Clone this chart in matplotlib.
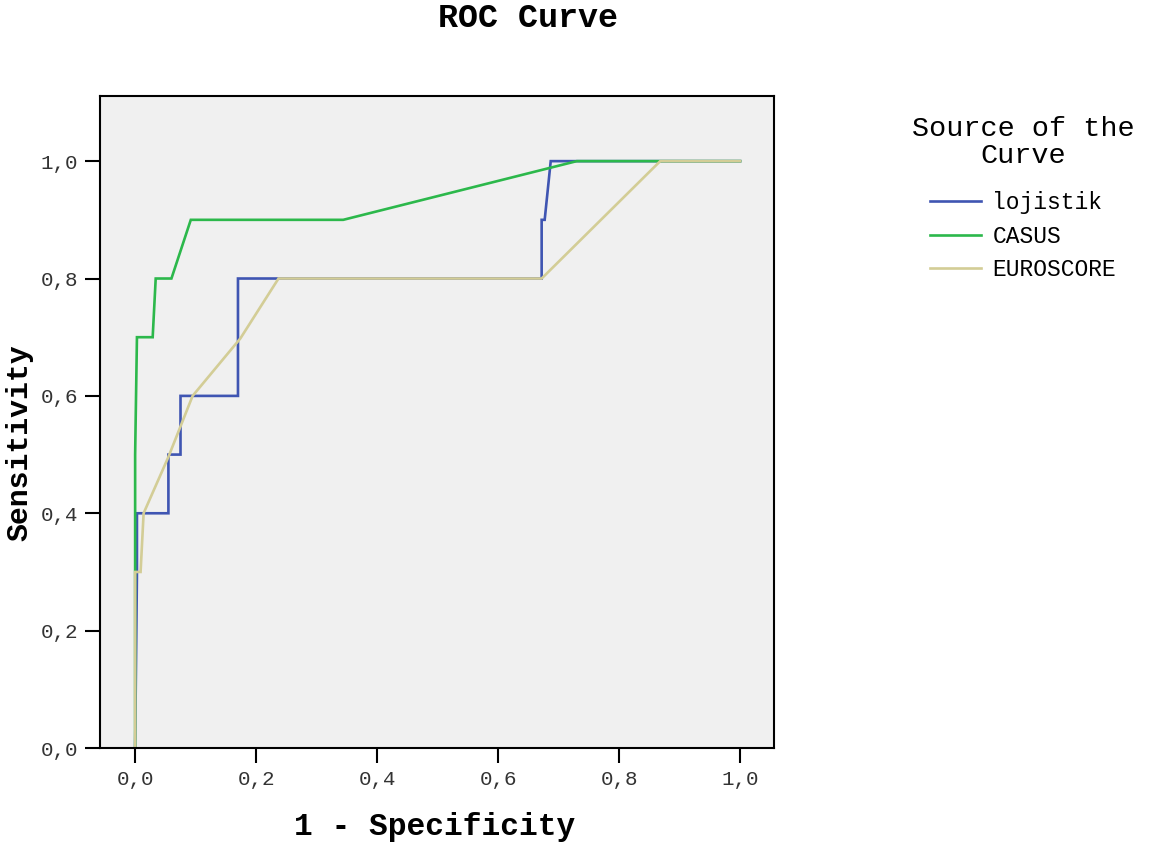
import matplotlib
matplotlib.use("Agg")
import matplotlib.pyplot as plt

plt.rcParams['font.family'] = ['Liberation Mono', 'DejaVu Sans Mono']

# ROC points
lojistik_x = [0.0, 0.003, 0.003, 0.055, 0.055, 0.075, 0.075, 0.170, 0.170, 0.672, 0.672, 0.677, 0.687, 1.0]
lojistik_y = [0.0, 0.300, 0.400, 0.400, 0.500, 0.500, 0.600, 0.600, 0.800, 0.800, 0.900, 0.900, 1.000, 1.0]

casus_x = [0.0, 0.0, 0.003, 0.029, 0.034, 0.060, 0.092, 0.344, 0.730, 1.0]
casus_y = [0.0, 0.5, 0.700, 0.700, 0.800, 0.800, 0.900, 0.900, 1.000, 1.0]

euro_x = [0.0, 0.0, 0.009, 0.014, 0.055, 0.095, 0.174, 0.237, 0.672, 0.868, 1.0]
euro_y = [0.0, 0.3, 0.300, 0.400, 0.496, 0.600, 0.698, 0.800, 0.800, 1.000, 1.0]

series_names = ['lojistik', 'CASUS', 'EUROSCORE']
series_colors = ['#3f55b2', '#2cb84b', '#d3cd96']

tick_vals = [0.0, 0.2, 0.4, 0.6, 0.8, 1.0]
tick_labels = ['0,0', '0,2', '0,4', '0,6', '0,8', '1,0']

fig = plt.figure(figsize=(11.5, 8.48), dpi=100)
ax = fig.add_axes([0.087, 0.1179, 0.586, 0.7689])
ax.set_facecolor('#f0f0f0')

for xs, ys, name, col in zip([lojistik_x, casus_x, euro_x], [lojistik_y, casus_y, euro_y],
                             series_names, series_colors):
	ax.plot(xs, ys, color=col, linewidth=1.9, label=name, solid_joinstyle='miter')

ax.set_xlim(-0.058, 1.056)
ax.set_ylim(0.0, 1.111)
ax.set_xticks(tick_vals)
ax.set_xticklabels(tick_labels)
ax.set_yticks(tick_vals)
ax.set_yticklabels(tick_labels)
ax.tick_params(direction='out', length=11, width=1.5, labelsize=15, pad=5, colors='black')
ax.tick_params(axis='x', labelcolor='#333333')
ax.tick_params(axis='y', labelcolor='#333333')
for sp in ax.spines.values():
	sp.set_linewidth(1.5)
	sp.set_color('black')

ax.set_xlabel('1 - Specificity', fontsize=22.5, fontweight='bold')
ax.xaxis.set_label_coords(0.496, -0.121)
ax.xaxis.label.set_va('center')
ax.set_ylabel('Sensitivity', fontsize=21.5, fontweight='bold')
ax.yaxis.set_label_coords(-0.119, 0.469)
ax.yaxis.label.set_va('center')

fig.text(0.459, 0.978, 'ROC Curve', ha='center', va='center', fontsize=24, fontweight='bold')

leg = ax.legend(loc='upper left', bbox_to_anchor=(0.793, 0.863), bbox_transform=fig.transFigure,
                frameon=False, title='Source of the\nCurve', fontsize=16.5,
                handlelength=2.2, handletextpad=0.5, labelspacing=0.45, borderaxespad=0,
                borderpad=0)
leg.get_title().set_fontsize(20.5)
leg.get_title().set_multialignment('center')
leg.get_title().set_linespacing(1.05)
leg._legend_box.align = 'center'
leg._legend_box.sep = 16  # gap between legend title and entries

fig.savefig('out.png', dpi=100)
